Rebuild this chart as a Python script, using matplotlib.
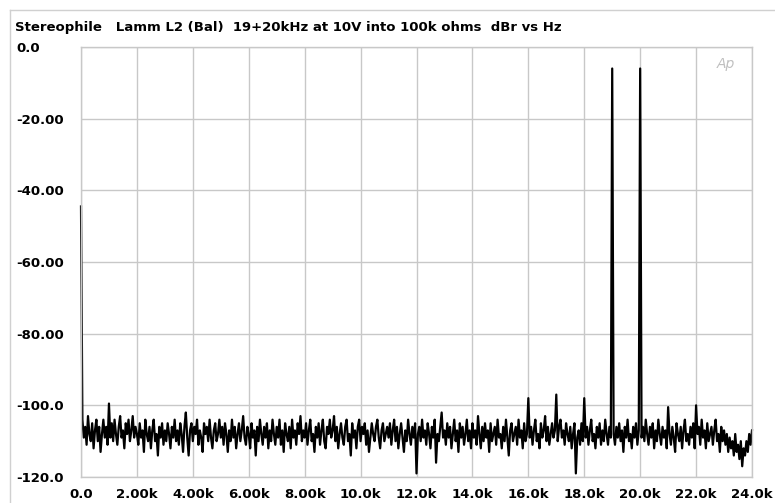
import numpy as np
import matplotlib.pyplot as plt
from matplotlib.lines import Line2D

# FFT of the 19+20kHz twin-tone, 50Hz bins, dBr (one row per kHz)
freq_step = 50
level_db = [
    -44.5, -104, -109, -106, -111, -103, -108, -110, -105, -112, -107, -104, -110, -106, -113, -108, -104, -109, -106, -111,
    -99.5, -109, -105, -110, -104, -108, -111, -106, -103, -109, -107, -112, -105, -108, -104, -110, -107, -103, -109, -106,
    -108, -111, -105, -109, -107, -113, -104, -108, -110, -106, -112, -107, -104, -110, -108, -114, -106, -109, -105, -111,
    -107, -110, -105, -108, -112, -106, -109, -104, -110, -107, -111, -105, -108, -113, -106, -102, -109, -114, -107, -105,
    -110, -106, -108, -104, -111, -107, -109, -113, -105, -108, -106, -110, -104, -109, -112, -107, -105, -110, -108, -104,
    -109, -106, -111, -105, -108, -113, -107, -110, -104, -109, -106, -112, -108, -105, -110, -107, -103, -109, -111, -106,
    -108, -112, -105, -109, -107, -114, -106, -110, -104, -108, -111, -106, -109, -105, -112, -107, -110, -104, -108, -111,
    -106, -109, -104, -111, -107, -113, -105, -108, -110, -106, -112, -104, -109, -107, -111, -105, -108, -103, -110, -107,
    -109, -105, -111, -107, -104, -110, -108, -113, -106, -109, -105, -111, -107, -104, -110, -112, -106, -108, -104, -109,
    -107, -103, -110, -106, -112, -108, -105, -109, -111, -106, -104, -110, -108, -114, -105, -109, -107, -112, -106, -104,
    -110, -106, -108, -105, -111, -107, -113, -109, -105, -108, -110, -106, -104, -109, -112, -107, -105, -110, -108, -106,
    -109, -105, -111, -107, -104, -110, -106, -112, -108, -105, -109, -113, -107, -110, -104, -108, -111, -106, -109, -105,
    -119, -108, -106, -110, -104, -109, -107, -111, -105, -108, -112, -106, -109, -104, -116, -108, -110, -106, -102, -109,
    -107, -111, -105, -109, -106, -112, -108, -104, -110, -107, -113, -105, -109, -106, -111, -108, -104, -110, -107, -112,
    -105, -109, -107, -111, -103, -108, -112, -106, -110, -105, -109, -107, -113, -105, -110, -108, -106, -111, -104, -109,
    -108, -112, -106, -110, -104, -109, -114, -107, -105, -110, -108, -106, -111, -104, -109, -107, -112, -105, -110, -108,
    -98, -109, -106, -111, -107, -104, -110, -108, -112, -105, -109, -107, -103, -110, -106, -111, -108, -105, -109, -107,
    -97, -110, -106, -104, -109, -107, -111, -105, -108, -110, -106, -112, -108, -105, -119, -109, -107, -111, -105, -110,
    -98, -109, -106, -111, -107, -104, -110, -108, -112, -106, -109, -105, -111, -107, -110, -104, -108, -111, -106, -109,
    -6, -108, -111, -106, -109, -105, -110, -107, -113, -106, -109, -104, -110, -108, -112, -106, -109, -105, -111, -107,
    -6, -109, -106, -110, -104, -108, -111, -106, -109, -105, -112, -107, -110, -104, -108, -111, -106, -109, -107, -112,
    -100.5, -108, -111, -106, -109, -113, -105, -108, -110, -106, -112, -107, -104, -110, -108, -111, -106, -109, -105, -112,
    -100, -108, -106, -111, -104, -109, -107, -112, -105, -110, -108, -106, -111, -107, -104, -110, -108, -113, -106, -110,
    -107, -111, -108, -113, -109, -112, -110, -114, -108, -113, -111, -115, -110, -117, -112, -114, -110, -113, -108, -111,
    -107,
]
freq_hz = np.arange(len(level_db)) * freq_step

x_ticks = np.arange(0, 24001, 2000)
x_labels = ["0.0", "2.00k", "4.00k", "6.00k", "8.00k", "10.0k", "12.0k",
            "14.0k", "16.0k", "18.0k", "20.0k", "22.0k", "24.0k"]
y_ticks = [0, -20, -40, -60, -80, -100, -120]
y_labels = ["0.0", "-20.00", "-40.00", "-60.00", "-80.00", "-100.0", "-120.0"]

plt.rcParams["font.family"] = ["DejaVu Sans"]

fig = plt.figure(figsize=(7.75, 5.03), dpi=100)
ax = fig.add_axes([81 / 775, 1 - 477 / 503, (752 - 81) / 775, (477 - 47) / 503])

ax.plot(freq_hz, level_db, color="black", linewidth=1.6, clip_on=False)

ax.set_xlim(0, 24000)
ax.set_ylim(-120, 0)
ax.set_xticks(x_ticks)
ax.set_xticklabels(x_labels, fontsize=9.5, fontweight="bold")
ax.set_yticks(y_ticks)
ax.set_yticklabels(y_labels, fontsize=9.5, fontweight="bold", ha="left")
ax.tick_params(axis="both", length=0)
ax.tick_params(axis="y", pad=(81 - 16) * 0.72)
ax.tick_params(axis="x", pad=8)
ax.grid(color="#c8c8c8", linewidth=1.0)
ax.set_axisbelow(True)
for s in ax.spines.values():
    s.set_color("#c8c8c8")
    s.set_linewidth(1.0)

fig.text(15 / 775, 1 - 27 / 503,
         "Stereophile   Lamm L2 (Bal)  19+20kHz at 10V into 100k ohms  dBr vs Hz",
         fontsize=9.5, fontweight="bold", va="center", ha="left")
ax.text(0.975, 0.96, "Ap", transform=ax.transAxes, fontsize=10, style="italic",
        color="#c0c0c0", ha="right", va="center")

# thin outer border along the top and left
fig.add_artist(Line2D([10 / 775, 10 / 775], [0, 1 - 10 / 503],
                      transform=fig.transFigure, color="#d0d0d0", linewidth=1.0))
fig.add_artist(Line2D([10 / 775, 1], [1 - 10 / 503, 1 - 10 / 503],
                      transform=fig.transFigure, color="#d0d0d0", linewidth=1.0))

fig.savefig("out.png", dpi=100)
